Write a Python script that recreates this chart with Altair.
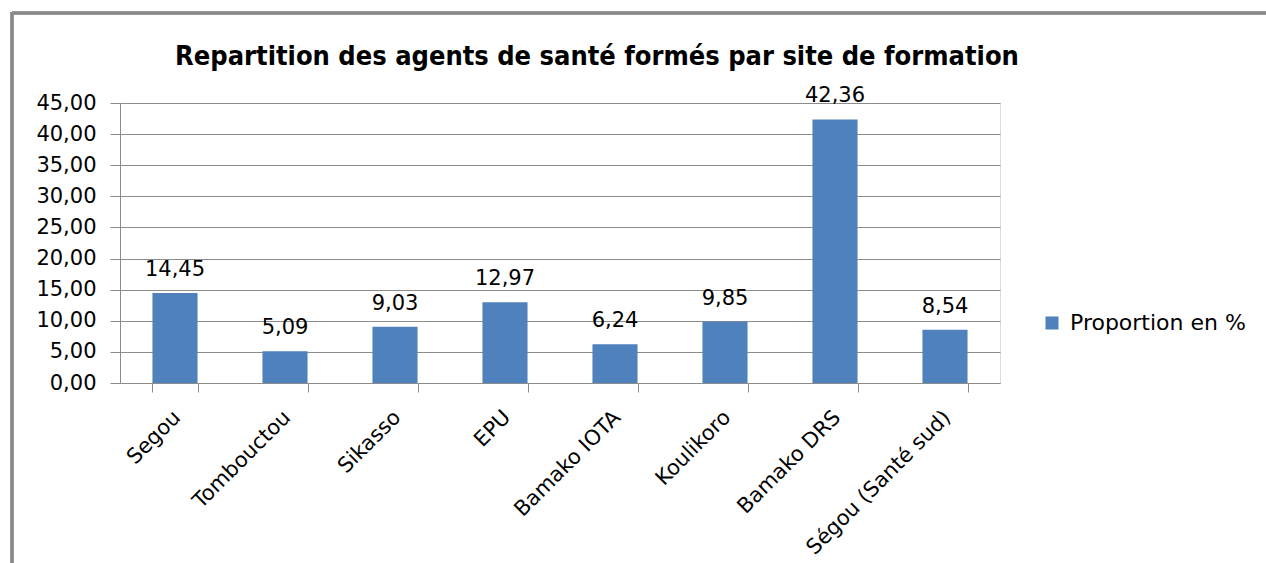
import altair as alt
import pandas as pd

sites = ["Segou", "Tombouctou", "Sikasso", "EPU", "Bamako IOTA", "Koulikoro", "Bamako DRS", "Ségou (Santé sud)"]
values = [14.45, 5.09, 9.03, 12.97, 6.24, 9.85, 42.36, 8.54]
series = "Proportion en %"
y_ticks = [0, 5, 10, 15, 20, 25, 30, 35, 40, 45]

df = pd.DataFrame({"site": sites, "value": values, "series": [series] * len(sites)})

BLUE = "#4F81BD"
GRID = "#8c8c8c"
FONT = "DejaVu Sans"


def x_enc():
    return alt.X("site:N", sort=sites, title=None,
                 scale=alt.Scale(paddingInner=0.59, paddingOuter=0.295),
                 axis=alt.Axis(labelAngle=-45, labelAlign="right", labelBaseline="middle",
                               labelFont=FONT, labelFontSize=21, labelColor="#000000",
                               labelPadding=22, labelOffset=2,
                               tickBand="extent", tickSize=9, tickColor=GRID,
                               domainColor=GRID, labelLimit=400, labelOverlap=False))


def y_enc():
    return alt.Y("value:Q", title=None,
                 scale=alt.Scale(domain=[0, 45], nice=False),
                 axis=alt.Axis(values=y_ticks,
                               labelExpr="replace(format(datum.value, '.2f'), '.', ',')",
                               labelFont=FONT, labelFontSize=21, labelColor="#000000",
                               labelPadding=14, tickSize=10, tickColor=GRID, labelOverlap=False,
                               grid=True, gridColor=GRID, gridWidth=1, gridOpacity=1,
                               domainColor=GRID))


bars = alt.Chart(df).mark_bar(color=BLUE).encode(
    x=x_enc(), y=y_enc(),
    color=alt.Color("series:N", scale=alt.Scale(range=[BLUE]),
                    legend=alt.Legend(title=None, orient="none", legendX=921, legendY=209,
                                      symbolType="square", symbolSize=170,
                                      symbolStrokeWidth=0, labelFont=FONT,
                                      labelFontSize=22, labelColor="#000000",
                                      labelOffset=7, labelLimit=400)),
)

labels = alt.Chart(df).transform_calculate(
    lbl="replace(format(datum.value, '.2f'), '.', ',')"
).mark_text(baseline="alphabetic", dy=-17, font=FONT, fontSize=21, color="#000000").encode(
    x=x_enc(), y=y_enc(), text="lbl:N",
)

frame_top = alt.Chart(df).mark_rule(color="#8a8a8a", strokeWidth=2.5).encode(
    x=alt.value(-108), x2=alt.value(1160), y=alt.value(-90)
)
frame_left = alt.Chart(df).mark_rule(color="#8a8a8a", strokeWidth=2.5).encode(
    x=alt.value(-108), y=alt.value(-91), y2=alt.value(470)
)

chart = alt.layer(bars, labels, frame_top, frame_left).properties(
    width=880, height=280,
    title=alt.TitleParams("Repartition des agents de santé formés par site de formation",
                          font="Liberation Sans Narrow, DejaVu Sans Condensed, sans-serif",
                          fontSize=27, fontWeight="bold", color="#000000",
                          anchor="middle", dx=37, offset=-60),
    autosize=alt.AutoSizeParams(type="none"),
    padding={"left": 120, "top": 103, "right": 266, "bottom": 180},
).configure_view(strokeWidth=0, stroke="transparent").configure(background="#ffffff")

chart.save("out.html", embed_options={"renderer": "svg", "actions": False})
